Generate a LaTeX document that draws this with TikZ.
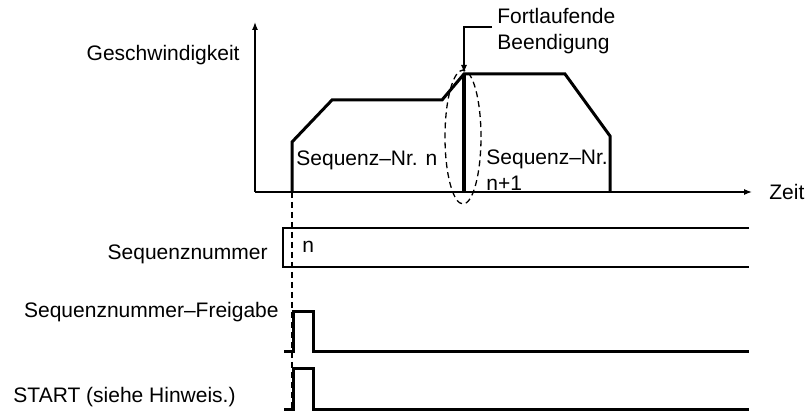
\documentclass[tikz,border=0pt]{standalone}
\usepackage{fontspec}
\setmainfont{Liberation Sans}
\usetikzlibrary{arrows.meta}
\begin{document}
\begin{tikzpicture}[x=0.5pt,y=-0.5pt,font=\fontsize{10.5}{13}\selectfont,
  every node/.style={inner sep=0pt},
  thinline/.style={line width=0.65pt},
  signal/.style={line width=1.5pt,line join=miter},
  tip/.style={-{Latex[length=4pt,width=3pt]}},
  dashline/.style={thinline,dash pattern=on 3pt off 2pt}]
\useasboundingbox (0,0) rectangle (809,411);
%axes
\coordinate (o) at (255,192);
\coordinate (ytip) at (255,22);
\coordinate (xtip) at (752,192);
\draw[thinline,tip] (o) -- (ytip);
\draw[thinline,tip] (o) -- (xtip);
\node[anchor=west,xshift=8.5pt] (zeit) at (xtip) {Zeit};
\node[anchor=east] (geschw) at (240,55) {Geschwindigkeit};
%speed profile
\draw[signal] (292,192) -- (292,142) -- (332,100) -- (442,100) -- (464,74)
  -- (565,74) -- (610,136) -- (610,192);
\draw[line width=2pt] (464,74) -- (464,192);
\draw[dashline] (463,137) ellipse [x radius=9pt, y radius=33.5pt];
%labels in the chart
\node[anchor=west] (seqn) at (296,160) {Sequenz–Nr. n};
\node[anchor=west,align=left] (seqnn) at (486,170) {Sequenz–Nr.\\n+1};
\node[anchor=west,align=left] (fort) at (497,31) {Fortlaufende\\Beendigung};
\coordinate (fortend) at (492,27);
\draw[thinline,tip] (fortend) -- (464,27) -- (464,73);
%start marker
\draw[dashline] (292,192) -- (292,409);
%sequence number
\draw[thinline] (749,228) -- (283,228) -- (283,267) -- (749,267);
\node[anchor=west] (nval) at (302,247) {n};
\node[anchor=east] (seqnum) at (268,254) {Sequenznummer};
%pulses
\draw[signal] (284,352) -- (293,352) -- (293,312) -- (313,312) -- (313,352) -- (749,352);
\node[anchor=east] (freig) at (279,312) {Sequenznummer–Freigabe};
\draw[signal] (284,409) -- (293,409) -- (293,369) -- (313,369) -- (313,409) -- (749,409);
\node[anchor=east] (start) at (236,397) {START (siehe Hinweis.)};
\end{tikzpicture}
\end{document}
